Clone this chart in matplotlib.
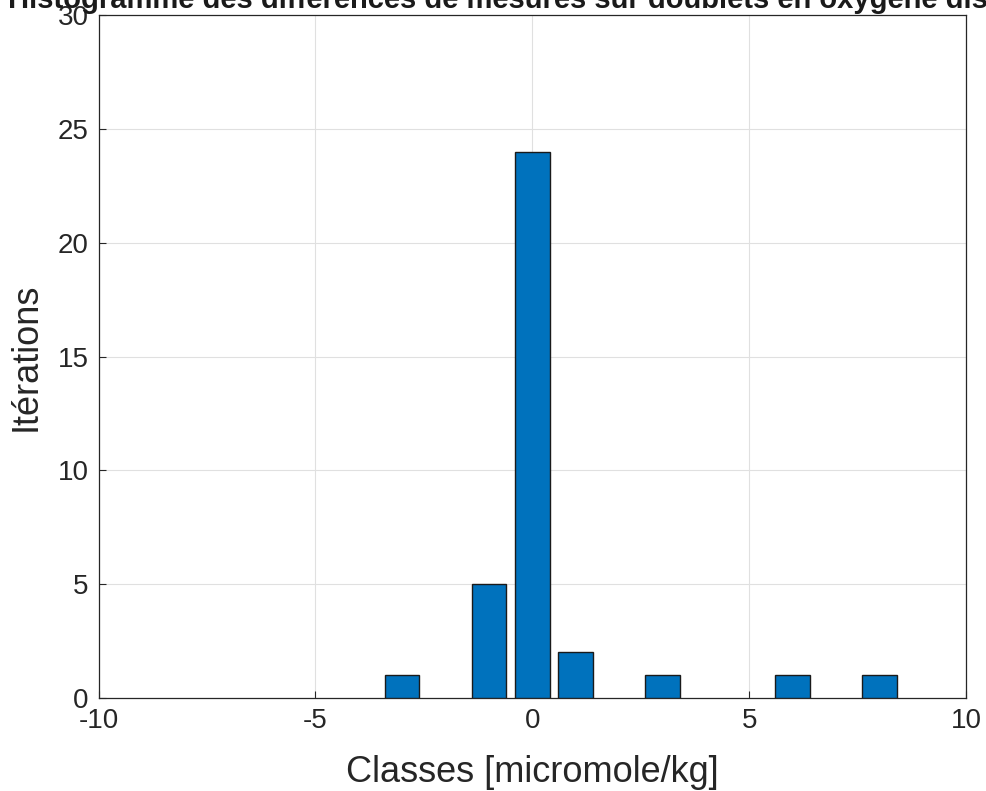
import matplotlib
matplotlib.use('Agg')
import matplotlib.pyplot as plt

# class centres [micromole/kg] and counts
classes = [-3, -1, 0, 1, 3, 6, 8]
counts = [1, 5, 24, 2, 1, 1, 1]

x_ticks = [-10, -5, 0, 5, 10]
y_ticks = [0, 5, 10, 15, 20, 25, 30]

title = "Histogramme des différences de mesures sur doublets en oxygène dissous"

plt.rcParams['font.family'] = ['Liberation Sans', 'DejaVu Sans']
plt.rcParams['axes.unicode_minus'] = False

W, H = 986, 791
fig = plt.figure(figsize=(W / 100, H / 100), dpi=100)
ax = fig.add_axes([98.5 / W, 1 - 698 / H, (966 - 98.5) / W, (698 - 15) / H])

ax.bar(classes, counts, width=0.8, color='#0072BD', edgecolor='#1a1a1a', linewidth=1.0, zorder=3)

ax.set_xlim(-10, 10)
ax.set_ylim(0, 30)
ax.set_xticks(x_ticks)
ax.set_yticks(y_ticks)
ax.tick_params(direction='in', length=5, width=0.8, colors='#262626', labelsize=20, pad=7)
ax.grid(True, color='#e0e0e0', linewidth=0.8, zorder=0)
ax.set_axisbelow(True)
for s in ax.spines.values():
    s.set_color('#262626')
    s.set_linewidth(0.9)

ax.set_xlabel('Classes [micromole/kg]', fontsize=26, color='#262626', labelpad=15)
ax.set_ylabel('Itérations', fontsize=26, color='#262626', labelpad=10)

# title is wider than the figure and sits partly above the top edge
fig.text((98.5 + 966) / 2 / W, 1 - 8 / H, title, fontsize=21, fontweight='bold',
         color='#1a1a1a', ha='center', va='baseline')

fig.savefig('out.png', dpi=100)
plt.close(fig)
